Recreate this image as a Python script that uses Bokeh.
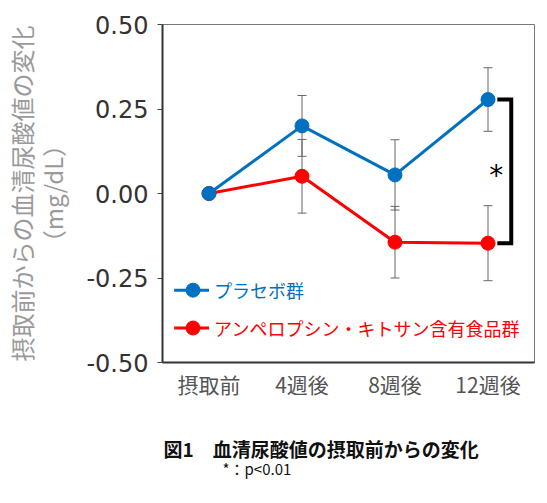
import math
from bokeh.plotting import figure
from bokeh.layouts import column
from bokeh.models import (ColumnDataSource, Whisker, TeeHead, FixedTicker, Label, Range1d)
from bokeh.embed import file_html
from bokeh.resources import INLINE

categories = ["摂取前", "4週後", "8週後", "12週後"]
placebo_mean = [0.0, 0.200, 0.055, 0.278]
placebo_err = [0.0, 0.090, 0.104, 0.094]
treat_mean = [0.0, 0.051, -0.144, -0.147]
treat_err = [0.0, 0.109, 0.106, 0.111]
y_ticks = [-0.5, -0.25, 0.0, 0.25, 0.5]
y_tick_labels = ["-0.50", "-0.25", "0.00", "0.25", "0.50"]
series_names = ["プラセボ群", "アンペロプシン・キトサン含有食品群"]
y_axis_title = ["摂取前からの血清尿酸値の変化", "（mg/dL）"]
fig_title = "図1　血清尿酸値の摂取前からの変化"
footnote = "*：p<0.01"
sig_mark = "*"

BLUE = "#0070C0"
RED = "#FF0000"
JP = "Noto Sans CJK JP"

xs = list(range(len(categories)))

FRAME_L, FRAME_R, W = 162, 5, 539

p = figure(width=W, height=410, output_backend="svg", toolbar_location=None,
           x_range=Range1d(-0.5, 3.5), y_range=Range1d(-0.5, 0.5),
           min_border_left=FRAME_L, min_border_right=FRAME_R, min_border_top=24,
           min_border_bottom=48)
p.grid.visible = False
p.outline_line_color = "#777777"
p.outline_line_width = 1
p.background_fill_color = "white"
p.border_fill_color = "white"

# axes
p.xaxis.ticker = FixedTicker(ticks=xs)
p.xaxis.major_label_overrides = {i: c for i, c in zip(xs, categories)}
p.xaxis.major_tick_line_color = None
p.xaxis.minor_tick_line_color = None
p.xaxis.major_tick_out = 0
p.xaxis.major_tick_in = 0
p.xaxis.major_label_standoff = 6
p.xaxis.major_label_text_font = JP
p.xaxis.major_label_text_font_size = "21px"
p.xaxis.major_label_text_color = "#555555"
p.xaxis.axis_line_color = "#333333"
p.xaxis.axis_line_width = 2

p.yaxis.ticker = FixedTicker(ticks=y_ticks)
p.yaxis.major_label_overrides = {t: l for t, l in zip(y_ticks, y_tick_labels)}
p.yaxis.minor_tick_line_color = None
p.yaxis.major_tick_out = 5
p.yaxis.major_tick_in = 0
p.yaxis.major_tick_line_color = "#444444"
p.yaxis.major_label_standoff = 9
p.yaxis.major_label_text_font = "DejaVu Sans"
p.yaxis.major_label_text_font_size = "24px"
p.yaxis.major_label_text_color = "#333333"
p.yaxis.axis_line_color = "#333333"
p.yaxis.axis_line_width = 2
p.yaxis.axis_label = "\n".join(y_axis_title)
p.yaxis.axis_label_text_font = JP
p.yaxis.axis_label_text_font_style = "normal"
p.yaxis.axis_label_text_font_size = "24px"
p.yaxis.axis_label_text_color = "#9a9a9a"
p.yaxis.axis_label_text_line_height = 0.89
p.yaxis.axis_label_standoff = 13

# error bars
for mean, err in ((treat_mean, treat_err), (placebo_mean, placebo_err)):
    src = ColumnDataSource(dict(
        x=xs[1:],
        upper=[m + e for m, e in zip(mean[1:], err[1:])],
        lower=[m - e for m, e in zip(mean[1:], err[1:])]))
    w = Whisker(base="x", upper="upper", lower="lower", source=src,
                line_color="#666666", line_width=1,
                upper_head=TeeHead(size=9, line_color="#666666", line_width=1),
                lower_head=TeeHead(size=9, line_color="#666666", line_width=1))
    p.add_layout(w)

# series lines + markers
p.line(xs, treat_mean, line_color=RED, line_width=3)
p.scatter(xs, treat_mean, size=14, fill_color=RED, line_color=RED)
p.line(xs, placebo_mean, line_color=BLUE, line_width=3)
p.scatter(xs, placebo_mean, size=14, fill_color=BLUE, line_color=BLUE)

# significance bracket
bx0, bx1 = 3.10, 3.25
top, bot = placebo_mean[3], treat_mean[3]
p.line([bx0, bx1, bx1, bx0], [top, top, bot, bot], line_color="black",
       line_width=4, line_join="miter")
p.add_layout(Label(x=3.09, y=(top + bot) / 2 - 0.012, text=sig_mark,
                   text_font="DejaVu Sans", text_font_size="28px",
                   text_align="center", text_baseline="middle",
                   text_color="black"))

# legend (manual)
leg_y = [-0.286, -0.398]
for yy, col, name in zip(leg_y, [BLUE, RED], series_names):
    p.line([-0.375, 0.0], [yy, yy], line_color=col, line_width=3)
    p.scatter([-0.172], [yy], size=14, fill_color=col, line_color=col)
    p.add_layout(Label(x=0.055, y=yy, text=name, text_font=JP,
                       text_font_size="18px", text_color=col,
                       text_align="left", text_baseline="middle"))

# caption panel below the chart; its frame aligns with the chart frame,
# so x is expressed in page pixels across that frame
CAP_H = 85
cap = figure(width=W, height=CAP_H, output_backend="svg", toolbar_location=None,
             x_range=Range1d(FRAME_L, W - FRAME_R), y_range=Range1d(0, CAP_H),
             min_border_left=FRAME_L, min_border_right=FRAME_R,
             min_border_top=0, min_border_bottom=0, outline_line_color=None)
cap.axis.visible = False
cap.grid.visible = False
cap.add_layout(Label(x=163, y=CAP_H - 38, text=fig_title, text_font=JP,
                     text_font_style="bold", text_font_size="19px",
                     text_color="#111111", text_align="left",
                     text_baseline="middle"))
cap.add_layout(Label(x=222, y=CAP_H - 58, text=footnote, text_font=JP,
                     text_font_size="15px", text_color="#111111",
                     text_align="left", text_baseline="middle"))

layout = column(p, cap, spacing=0)
open("out.html", "w").write(file_html(layout, INLINE))
